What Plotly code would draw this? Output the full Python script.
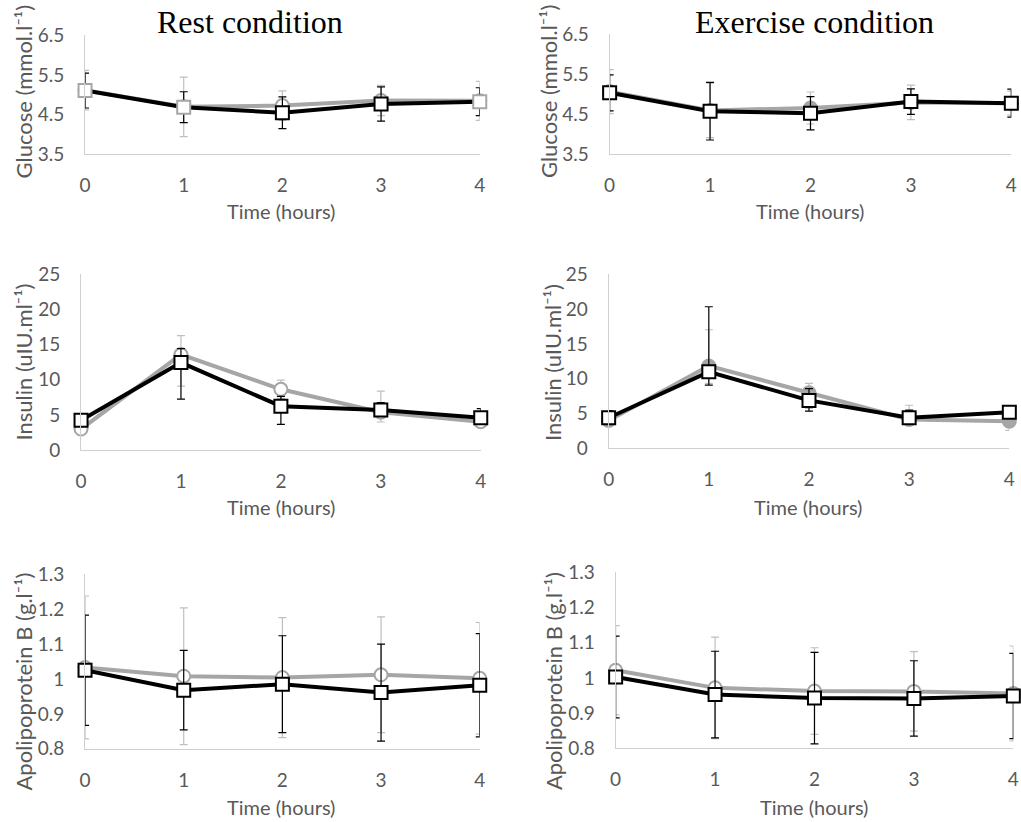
import plotly.graph_objects as go

hours = [0, 1, 2, 3, 4]
tick_hours = ["0", "1", "2", "3", "4"]

# Rest condition
rest_glucose_gray = [5.12, 4.70, 4.73, 4.86, 4.85]
rest_glucose_gray_err = [0.50, 0.75, 0.37, 0.38, 0.49]
rest_glucose_black = [5.11, 4.69, 4.55, 4.77, 4.83]
rest_glucose_black_err = [0.44, 0.39, 0.40, 0.43, 0.35]

rest_insulin_gray = [3.0, 13.6, 8.65, 5.4, 4.05]
rest_insulin_gray_plus = [0.5, 2.7, 1.3, 3.0, 0.6]
rest_insulin_gray_minus = [0.5, 4.5, 1.3, 1.4, 0.6]
rest_insulin_black = [4.25, 12.45, 6.25, 5.7, 4.6]
rest_insulin_black_plus = [0.8, 2.0, 1.4, 1.05, 1.3]
rest_insulin_black_minus = [0.8, 5.2, 2.6, 0.9, 0.5]

rest_apob_gray = [1.033, 1.008, 1.004, 1.012, 1.002]
rest_apob_gray_err = [0.205, 0.196, 0.172, 0.166, 0.160]
rest_apob_black = [1.025, 0.968, 0.985, 0.961, 0.982]
rest_apob_black_err = [0.158, 0.114, 0.139, 0.139, 0.148]

# Exercise condition
ex_glucose_gray = [5.07, 4.60, 4.66, 4.80, 4.78]
ex_glucose_gray_err = [0.55, 0.68, 0.40, 0.43, 0.30]
ex_glucose_black = [5.04, 4.58, 4.53, 4.82, 4.78]
ex_glucose_black_err = [0.45, 0.72, 0.415, 0.32, 0.35]

ex_insulin_gray = [4.0, 11.85, 8.0, 4.15, 3.9]
ex_insulin_gray_plus = [1.0, 5.2, 1.35, 2.05, 0.5]
ex_insulin_gray_minus = [0.5, 2.5, 2.25, 0.5, 1.3]
ex_insulin_black = [4.4, 11.0, 6.9, 4.4, 5.2]
ex_insulin_black_plus = [1.05, 9.35, 1.7, 1.1, 0.5]
ex_insulin_black_minus = [0.8, 1.9, 1.55, 0.5, 0.5]

ex_apob_gray = [1.022, 0.972, 0.963, 0.962, 0.956]
ex_apob_gray_err = [0.127, 0.144, 0.123, 0.113, 0.135]
ex_apob_black = [1.003, 0.953, 0.943, 0.942, 0.949]
ex_apob_black_err = [0.116, 0.123, 0.130, 0.107, 0.121]

col_titles = ["Rest condition", "Exercise condition"]
y_titles = ["Glucose (mmol.l\u207b\u00b9)", "Insulin (uIU.ml\u207b\u00b9)",
            "Apolipoprotein B (g.l\u207b\u00b9)"]
x_title = "Time (hours)"

W, H = 1021, 822
GRAY = "#a6a6a6"
ERRGRAY = "#bfbfbf"
TXT = "#595959"
AX = "#d0d0d0"
FONT = "Lato"
FS = 19
FST = 20
FSY = 22


def fx(px):
    return ((px - 4.9) / 0.989) / W


def fy(py):
    return 1 - ((py - 12.6) / 0.972) / H


# panel pixel boxes: (x0, x1, ytop, ybottom)
boxes = {
    (0, 0): (84, 479, 36, 155),
    (0, 1): (609, 1011, 35, 155),
    (1, 0): (80, 480, 275, 450.7),
    (1, 1): (608, 1009, 275, 449),
    (2, 0): (84, 479, 575, 749.3),
    (2, 1): (615, 1013, 573, 749),
}
yranges = [[3.5, 6.5], [0, 25], [0.8, 1.3]]
ydticks = [1, 5, 0.1]
ytick0 = [3.5, 0, 0.8]

panels = {
    (0, 0): dict(g=rest_glucose_gray, gp=rest_glucose_gray_err, gm=rest_glucose_gray_err,
                 b=rest_glucose_black, bp=rest_glucose_black_err, bm=rest_glucose_black_err,
                 gfill="white", bline=[GRAY, GRAY, "black", "black", GRAY]),
    (1, 0): dict(g=rest_insulin_gray, gp=rest_insulin_gray_plus, gm=rest_insulin_gray_minus,
                 b=rest_insulin_black, bp=rest_insulin_black_plus, bm=rest_insulin_black_minus,
                 gfill="white", bline="black"),
    (2, 0): dict(g=rest_apob_gray, gp=rest_apob_gray_err, gm=rest_apob_gray_err,
                 b=rest_apob_black, bp=rest_apob_black_err, bm=rest_apob_black_err,
                 gfill="white", bline="black"),
    (0, 1): dict(g=ex_glucose_gray, gp=ex_glucose_gray_err, gm=ex_glucose_gray_err,
                 b=ex_glucose_black, bp=ex_glucose_black_err, bm=ex_glucose_black_err,
                 gfill=GRAY, bline="black"),
    (1, 1): dict(g=ex_insulin_gray, gp=ex_insulin_gray_plus, gm=ex_insulin_gray_minus,
                 b=ex_insulin_black, bp=ex_insulin_black_plus, bm=ex_insulin_black_minus,
                 gfill=GRAY, bline="black"),
    (2, 1): dict(g=ex_apob_gray, gp=ex_apob_gray_err, gm=ex_apob_gray_err,
                 b=ex_apob_black, bp=ex_apob_black_err, bm=ex_apob_black_err,
                 gfill="white", bline="black"),
}

fig = go.Figure()
layout = {}
idx = 0
for (r, c), (x0, x1, yt, yb) in boxes.items():
    idx += 1
    sfx = "" if idx == 1 else str(idx)
    xa, ya = "x" + sfx, "y" + sfx
    layout["xaxis" + sfx] = dict(
        domain=[fx(x0), fx(x1)], range=[0, 4], anchor=ya,
        tickmode="array", tickvals=hours, ticktext=tick_hours,
        showline=True, linecolor=AX, linewidth=1, showgrid=False, zeroline=False,
        ticks="outside", ticklen=14, tickcolor="rgba(0,0,0,0)",
        tickfont=dict(family=FONT, size=FS, color=TXT), fixedrange=True)
    layout["yaxis" + sfx] = dict(
        domain=[fy(yb), fy(yt)], range=yranges[r], anchor=xa,
        tick0=ytick0[r], dtick=ydticks[r],
        showline=True, linecolor=AX, linewidth=1, showgrid=False, zeroline=False,
        ticks="outside", ticklen=16, tickcolor="rgba(0,0,0,0)",
        tickfont=dict(family=FONT, size=FS, color=TXT), fixedrange=True)
    p = panels[(r, c)]
    fig.add_trace(go.Scatter(
        x=hours, y=p["g"], xaxis=xa, yaxis=ya, mode="lines+markers", cliponaxis=False,
        line=dict(color=GRAY, width=4),
        marker=dict(symbol="circle", size=13, color=p["gfill"], line=dict(color=GRAY, width=2)),
        error_y=dict(type="data", symmetric=False, array=p["gp"], arrayminus=p["gm"],
                     color=ERRGRAY, thickness=1.2, width=4),
        showlegend=False))
    fig.add_trace(go.Scatter(
        x=hours, y=p["b"], xaxis=xa, yaxis=ya, mode="lines+markers", cliponaxis=False,
        line=dict(color="black", width=4),
        marker=dict(symbol="square", size=13, color="white", line=dict(color=p["bline"], width=2)),
        error_y=dict(type="data", symmetric=False, array=p["bp"], arrayminus=p["bm"],
                     color="black", thickness=1.2, width=4),
        showlegend=False))

ann = []
# column titles
for cx, t in zip([249, 814], col_titles):
    ann.append(dict(x=fx(cx), y=fy(23), xref="paper", yref="paper", text=t,
                    showarrow=False, xanchor="center", yanchor="middle",
                    font=dict(family="Liberation Serif", size=32, color="black")))
# y titles
ytpos = {(0, 0): (22, 92), (0, 1): (548, 92), (1, 0): (22, 363), (1, 1): (552, 363),
         (2, 0): (22, 682), (2, 1): (553, 682)}
for (r, c), (px, py) in ytpos.items():
    ann.append(dict(x=fx(px), y=fy(py), xref="paper", yref="paper", text=y_titles[r],
                    textangle=-90, showarrow=False, xanchor="center", yanchor="middle",
                    font=dict(family=FONT, size=FSY, color=TXT)))
# x titles
xtpos = [(280, 212), (810, 212), (280, 508), (808, 508), (280, 808), (814, 808)]
for px, py in xtpos:
    ann.append(dict(x=fx(px), y=fy(py), xref="paper", yref="paper", text=x_title,
                    showarrow=False, xanchor="center", yanchor="middle",
                    font=dict(family=FONT, size=FST, color=TXT)))

fig.update_layout(**layout)
fig.update_layout(width=W, height=H, margin=dict(l=0, r=0, t=0, b=0),
                  paper_bgcolor="white", plot_bgcolor="white", annotations=ann,
                  showlegend=False)
fig.write_html("out.html", config={"displayModeBar": False},
               post_script="document.body.style.margin='0';document.body.style.overflow='hidden';")
